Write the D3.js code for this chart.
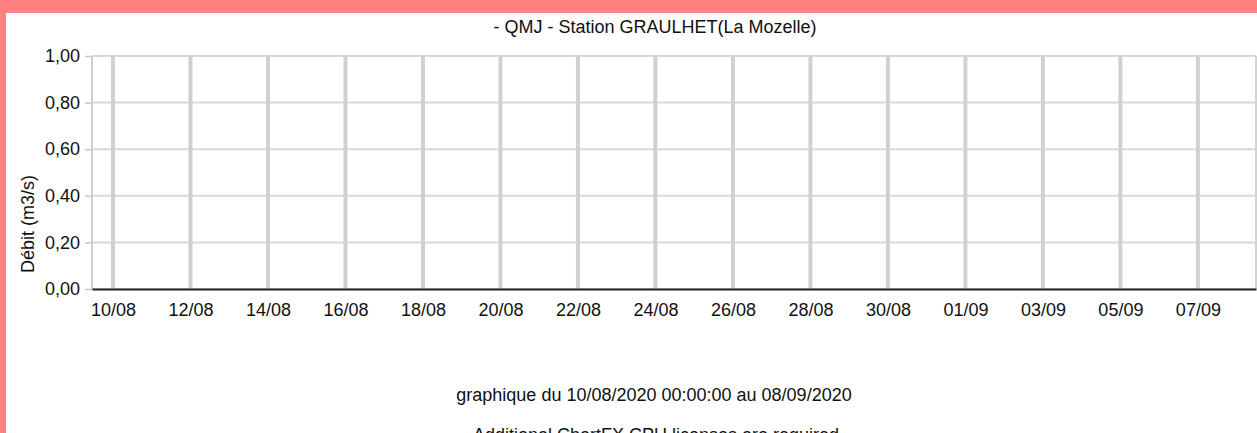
<!DOCTYPE html>
<html>
<head>
<meta charset="utf-8">
<script src="https://cdn.jsdelivr.net/npm/d3@7"></script>
<style>
  body { margin: 0; background: #ff8080; }
  svg { display: block; }
  text { font-family: "Liberation Sans", Arial, sans-serif; fill: #111; }
</style>
</head>
<body>
<div id="chart"></div>
<script>
// tick labels on the x axis (one every 2 days)
const tickDates = ["2020-08-10", "2020-08-12", "2020-08-14", "2020-08-16", "2020-08-18",
  "2020-08-20", "2020-08-22", "2020-08-24", "2020-08-26", "2020-08-28",
  "2020-08-30", "2020-09-01", "2020-09-03", "2020-09-05", "2020-09-07"];
const yTicks = [0, 0.2, 0.4, 0.6, 0.8, 1.0];
// QMJ series: no measurement in the period
const qmjDates = [];
const qmjValues = [];

const title = "- QMJ - Station GRAULHET(La Mozelle)";
const yTitle = "Débit (m3/s)";
const footer1 = "graphique du 10/08/2020 00:00:00 au 08/09/2020";
const footer2 = "Additional ChartFX CPU licenses are required";

const W = 1257, H = 433;
const plot = { left: 92, right: 1256, top: 56, bottom: 289 };
const fs = "18px";

const parse = d3.timeParse("%Y-%m-%d");
const fmt = d3.timeFormat("%d/%m");

const svg = d3.select("#chart").append("svg")
  .attr("width", W).attr("height", H);

// white panel inside the pink border
svg.append("rect").attr("x", 6).attr("y", 13)
  .attr("width", W - 6).attr("height", H - 13).attr("fill", "#fff");

const x = d3.scaleTime()
  .domain([d3.timeHour.offset(parse("2020-08-10"), -13), d3.timeHour.offset(parse("2020-09-07"), 36)])
  .range([plot.left, plot.right]);
const y = d3.scaleLinear().domain([0, 1]).range([plot.bottom, plot.top]);

// horizontal grid
svg.append("g").selectAll("line").data(yTicks).join("line")
  .attr("x1", plot.left).attr("x2", plot.right)
  .attr("y1", d => y(d)).attr("y2", d => y(d))
  .attr("stroke", "#d9d9d9").attr("stroke-width", 2);

// vertical grid
svg.append("g").selectAll("line").data(tickDates).join("line")
  .attr("x1", d => x(parse(d))).attr("x2", d => x(parse(d)))
  .attr("y1", plot.top).attr("y2", plot.bottom)
  .attr("stroke", "#d0d0d0").attr("stroke-width", 4);

// frame (left, right)
svg.append("line").attr("x1", plot.left).attr("x2", plot.left)
  .attr("y1", plot.top).attr("y2", plot.bottom)
  .attr("stroke", "#cfcfcf").attr("stroke-width", 2);
svg.append("line").attr("x1", plot.right).attr("x2", plot.right)
  .attr("y1", plot.top).attr("y2", plot.bottom)
  .attr("stroke", "#d4d4d4").attr("stroke-width", 2);

// y axis ticks + labels
const yAxis = svg.append("g").attr("transform", `translate(${plot.left},0)`)
  .call(d3.axisLeft(y).tickValues(yTicks).tickSize(7).tickPadding(5)
    .tickFormat(d => d3.format(".2f")(d).replace(".", ",")));
yAxis.select(".domain").remove();
yAxis.selectAll(".tick line").attr("stroke", "#c8c8c8").attr("stroke-width", 1.5);
yAxis.selectAll(".tick text").style("font-size", fs).attr("fill", "#111");

// x axis baseline + labels
const xAxis = svg.append("g").attr("transform", `translate(0,${plot.bottom})`)
  .call(d3.axisBottom(x).tickValues(tickDates.map(parse)).tickSize(0).tickPadding(14)
    .tickFormat(fmt));
xAxis.select(".domain").attr("stroke", "#222").attr("stroke-width", 2);
xAxis.selectAll(".tick text").style("font-size", fs).attr("fill", "#111");

// series line (empty period)
const line = d3.line().x((d, i) => x(parse(qmjDates[i]))).y(d => y(d));
svg.append("path").datum(qmjValues).attr("d", line)
  .attr("fill", "none").attr("stroke", "#1f3f9f").attr("stroke-width", 2);

// titles
svg.append("text").attr("x", 655).attr("y", 33).attr("text-anchor", "middle")
  .style("font-size", fs).text(title);
svg.append("text").attr("transform", "translate(34,224) rotate(-90)")
  .attr("text-anchor", "middle").style("font-size", fs).text(yTitle);
svg.append("text").attr("x", 654).attr("y", 401).attr("text-anchor", "middle")
  .style("font-size", fs).text(footer1);
svg.append("text").attr("x", 656).attr("y", 441).attr("text-anchor", "middle")
  .style("font-size", fs).text(footer2);
</script>
</body>
</html>
